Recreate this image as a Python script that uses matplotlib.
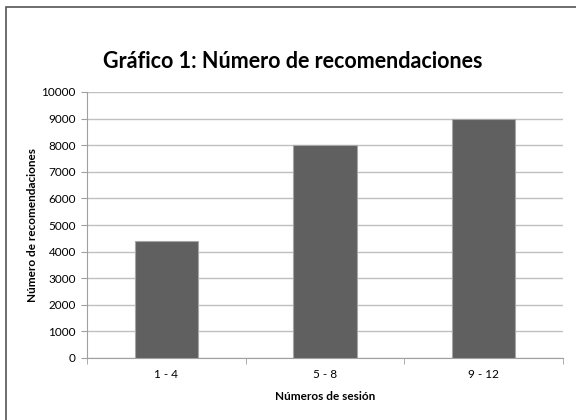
import matplotlib
matplotlib.use("Agg")
import matplotlib.pyplot as plt
from matplotlib.patches import Rectangle
import numpy as np

categories = ["1 - 4", "5 - 8", "9 - 12"]
values = [4400, 8000, 9000]
yticks = [0, 1000, 2000, 3000, 4000, 5000, 6000, 7000, 8000, 9000, 10000]

plt.rcParams['font.family'] = ['Lato', 'DejaVu Sans']

W, H = 576, 420
fig = plt.figure(figsize=(W / 100, H / 100), dpi=100)
ax = fig.add_axes([87 / W, 1 - 358 / H, (563 - 87) / W, (358 - 92) / H])

x = np.arange(len(categories))
ax.bar(x, values, width=0.4, color="#606060", edgecolor="#a6a6a6", linewidth=0.8, zorder=3)

ax.set_xlim(-0.5, len(categories) - 0.5)
ax.set_ylim(0, 10000)
ax.set_yticks(yticks)
ax.set_yticklabels([str(v) for v in yticks], fontsize=8.5)
ax.set_xticks(x)
ax.set_xticklabels(categories, fontsize=8.5)
ax.set_xticks(np.arange(-0.5, len(categories)), minor=True)
ax.tick_params(axis="x", which="major", length=0, pad=8)
ax.tick_params(axis="x", which="minor", length=4, color="#a0a0a0", direction="out")
ax.tick_params(axis="y", length=4, color="#a0a0a0", direction="out", pad=4)

ax.grid(axis="y", color="#c0c0c0", linewidth=1.0, zorder=0)
for s in ["top", "right"]:
    ax.spines[s].set_visible(False)
ax.spines["left"].set_color("#a0a0a0")
ax.spines["bottom"].set_color("#a0a0a0")

ax.set_ylabel("Número de recomendaciones", fontsize=8.5, fontweight="bold")
ax.yaxis.set_label_coords((33 - 87) / 476, 0.5)
ax.set_xlabel("Números de sesión", fontsize=8.5, fontweight="bold")
ax.xaxis.set_label_coords(0.5, (358 - 397) / 266)
ax.xaxis.label.set_va("center")
ax.yaxis.label.set_va("center")

fig.text(293 / W, 1 - 62 / H, "Gráfico 1: Número de recomendaciones",
         ha="center", va="center", fontsize=15.5, fontweight="bold")

fig.patches.append(Rectangle((6 / W, -0.1), 1.2, 1 - 7 / H + 0.1, transform=fig.transFigure,
                             fill=False, edgecolor="#555555", linewidth=1.2))

fig.savefig("out.png", dpi=100)
